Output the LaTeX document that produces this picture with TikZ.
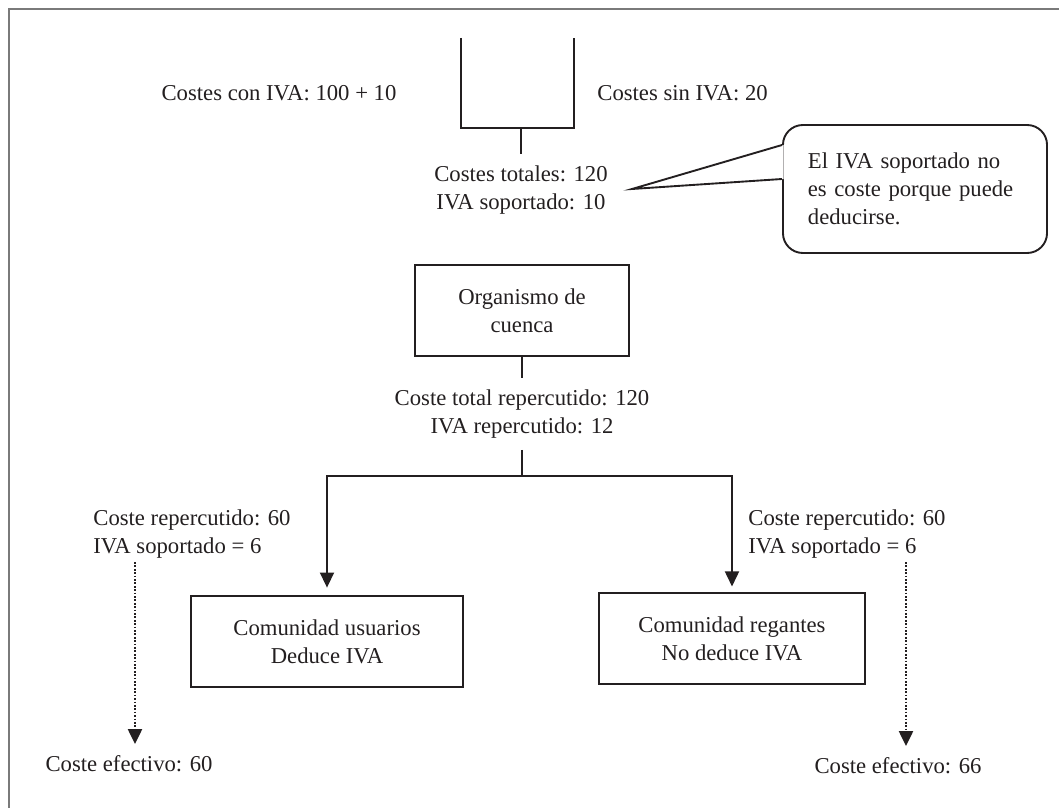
\documentclass[tikz,border=0pt]{standalone}
\usepackage{fontspec}
\setmainfont{Liberation Serif}
\usetikzlibrary{arrows.meta}
\definecolor{Ink}{HTML}{231F20}
\definecolor{Frame}{HTML}{7A7A7A}

\begin{document}
\begin{tikzpicture}[
  x=0.529pt,y=-0.529pt,
  txt/.style={font=\fontsize{12}{14.8}\selectfont, text=Ink, align=center, inner xsep=0pt, inner ysep=6pt},
  box/.style={txt, draw=Ink, line width=1pt, minimum height=48pt},
  wire/.style={draw=Ink, line width=1pt},
  flow/.style={wire, -{Triangle[length=8pt,width=7.4pt]}},
  dots/.style={flow, line width=1.3pt, dash pattern=on 0.9pt off 0.9pt}
]

  \useasboundingbox (0,0) rectangle (1059,808);
  \draw[Frame, line width=0.9pt] (9,808) -- (9,9) -- (1059,9);

  \coordinate (cubaL) at (461,38);
  \coordinate (cubaR) at (574,38);
  \coordinate (fondo) at (521,128);
  \draw[wire] (cubaL) -- (cubaL |- fondo) -- (cubaR |- fondo) -- (cubaR);

  \node[txt] (conIVA) at (279,93) {Costes con IVA: 100 + 10};
  \node[txt, anchor=west] (sinIVA) at (597,93) {Costes sin IVA: 20};

  \node[txt] (totales) at (521,190)
    {Costes totales: 120\\IVA soportado: 10};
  \draw[wire] (fondo) -- (totales.north);

  \node[
    txt,
    draw=Ink,
    line width=1pt,
    rounded corners=10.5pt,
    align=left,
    text width=113.3pt,
    inner xsep=13.2pt,
    minimum height=67.7pt
  ] (nota) at (915,189)
    {El IVA soportado no\\es coste porque puede\\deducirse.};

  \coordinate (punta) at (632,189);
  \coordinate (pieA) at (nota.west |- 0,145);
  \coordinate (pieB) at (nota.west |- 0,179);
  \fill[white] (punta) -- ([xshift=0.8pt]pieA) -- ([xshift=0.8pt]pieB) -- cycle;
  \draw[wire, line join=miter] (pieA) -- (punta) -- (pieB);

  \node[box, minimum width=113.2pt] (cuenca) at (522,310.5)
    {Organismo de\\cuenca};

  \node[txt] (repercutido) at (522,414)
    {Coste total repercutido: 120\\IVA repercutido: 12};
  \draw[wire] (cuenca.south) -- (repercutido.north);
  \draw[wire] (repercutido.south) -- ++(0,26) coordinate (rama);

  \node[box, minimum width=143.9pt] (usuarios) at (327,641.5)
    {Comunidad usuarios\\Deduce IVA};
  \node[box, minimum width=140.7pt] (regantes) at (732,638.5)
    {Comunidad regantes\\No deduce IVA};

  \draw[flow, shorten >=4pt] (rama) -| (usuarios.north);
  \draw[flow, shorten >=3pt] (rama) -| (regantes.north);

  \node[txt, align=left, anchor=west] (repA) at (93,534)
    {Coste repercutido: 60\\IVA soportado = 6};
  \node[txt, align=left, anchor=west] (repB) at (748,534)
    {Coste repercutido: 60\\IVA soportado = 6};

  \node[txt] (efectivoA) at (129,764) {Coste efectivo: 60};
  \node[txt] (efectivoB) at (898,766) {Coste efectivo: 66};

  \coordinate (caidaA) at (135,562);
  \coordinate (caidaB) at (906,562);
  \draw[dots] (caidaA) -- (caidaA |- efectivoA.north);
  \draw[dots] (caidaB) -- (caidaB |- efectivoB.north);

\end{tikzpicture}
\end{document}
